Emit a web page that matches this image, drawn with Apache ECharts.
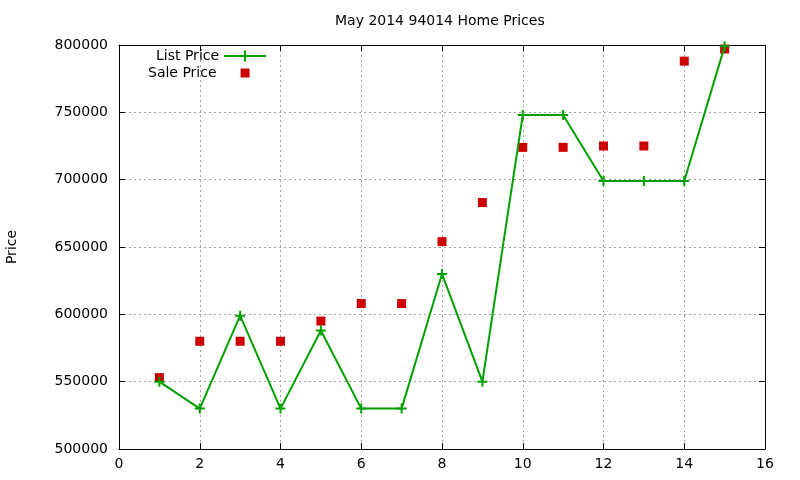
<!DOCTYPE html>
<html>
<head>
<meta charset="utf-8">
<script src="https://cdn.jsdelivr.net/npm/echarts@6/dist/echarts.min.js"></script>
<style>
  html, body { margin: 0; padding: 0; background: #fff; }
  #chart { width: 800px; height: 480px; }
</style>
</head>
<body>
<div id="chart"></div>
<script>
// data
const xValues = [1, 2, 3, 4, 5, 6, 7, 8, 9, 10, 11, 12, 13, 14, 15];
const listPrice = [550000, 530000, 599000, 530000, 588000, 530000, 530000, 630000, 550000, 748000, 748000, 699000, 699000, 699000, 799000];
const salePrice = [553000, 580000, 580000, 580000, 595000, 608000, 608000, 654000, 683000, 724000, 724000, 725000, 725000, 788000, 797000];

const font = 'DejaVu Sans, sans-serif';
const fs = 14;
const plus = 'path://M4,0H6V4H10V6H6V10H4V6H0V4H4Z';

const chart = echarts.init(document.getElementById('chart'));

const tickStyle = { show: true, inside: true, length: 6, lineStyle: { color: '#000' } };
const gridLine = { show: true, lineStyle: { color: '#a0a0a0', type: [2, 3], width: 1 } };

let option = {
  animation: false,
  backgroundColor: '#fff',
  textStyle: { fontFamily: font },
  title: {
    text: 'May 2014 94014 Home Prices',
    left: 335,
    top: 14,
    padding: 0,
    textStyle: { fontFamily: font, fontSize: fs, fontWeight: 'normal', color: '#000' }
  },
  legend: [
    {
      data: ['List Price'],
      align: 'right',
      left: 156,
      top: 49,
      padding: 0,
      itemWidth: 42,
      itemHeight: 14,
      textStyle: { fontFamily: font, fontSize: fs, color: '#000' }
    },
    {
      data: ['Sale Price'],
      align: 'right',
      left: 148,
      top: 66,
      padding: 0,
      itemWidth: 9,
      itemHeight: 9,
      textStyle: { fontFamily: font, fontSize: fs, color: '#000', padding: [0, 19, 0, 0] }
    }
  ],
  grid: { left: 119, right: 35, top: 45, bottom: 31, outerBoundsMode: 'none' },
  xAxis: [
    {
      type: 'value', min: 0, max: 16, interval: 2,
      axisLine: { show: true, onZero: false, lineStyle: { color: '#000' } },
      axisTick: tickStyle,
      axisLabel: { color: '#000', fontSize: fs, fontFamily: font, margin: 8 },
      splitLine: gridLine
    },
    {
      type: 'value', position: 'top', min: 0, max: 16, interval: 2,
      axisLine: { show: true, onZero: false, lineStyle: { color: '#000' } },
      axisTick: tickStyle,
      axisLabel: { show: false },
      splitLine: { show: false }
    }
  ],
  yAxis: [
    {
      type: 'value', min: 500000, max: 800000, interval: 50000,
      name: 'Price', nameLocation: 'middle', nameGap: 100, nameRotate: 90,
      nameTextStyle: { color: '#000', fontSize: fs, fontFamily: font },
      axisLine: { show: true, onZero: false, lineStyle: { color: '#000' } },
      axisTick: tickStyle,
      axisLabel: { color: '#000', fontSize: fs, fontFamily: font, margin: 11, formatter: v => String(v) },
      splitLine: gridLine
    },
    {
      type: 'value', position: 'right', min: 500000, max: 800000, interval: 50000,
      axisLine: { show: true, onZero: false, lineStyle: { color: '#000' } },
      axisTick: tickStyle,
      axisLabel: { show: false },
      splitLine: { show: false }
    }
  ],
  series: [
    {
      name: 'List Price',
      type: 'line',
      data: xValues.map((x, i) => [x, listPrice[i]]),
      symbol: plus,
      symbolSize: 10,
      showSymbol: true,
      showAllSymbol: true,
      lineStyle: { color: '#00a000', width: 2 },
      itemStyle: { color: '#00a000' }
    },
    {
      name: 'Sale Price',
      type: 'scatter',
      data: xValues.map((x, i) => [x, salePrice[i]]),
      symbol: 'rect',
      symbolSize: 9,
      itemStyle: { color: '#cc0000', opacity: 1 }
    }
  ]
};

chart.setOption(option);
</script>
</body>
</html>
